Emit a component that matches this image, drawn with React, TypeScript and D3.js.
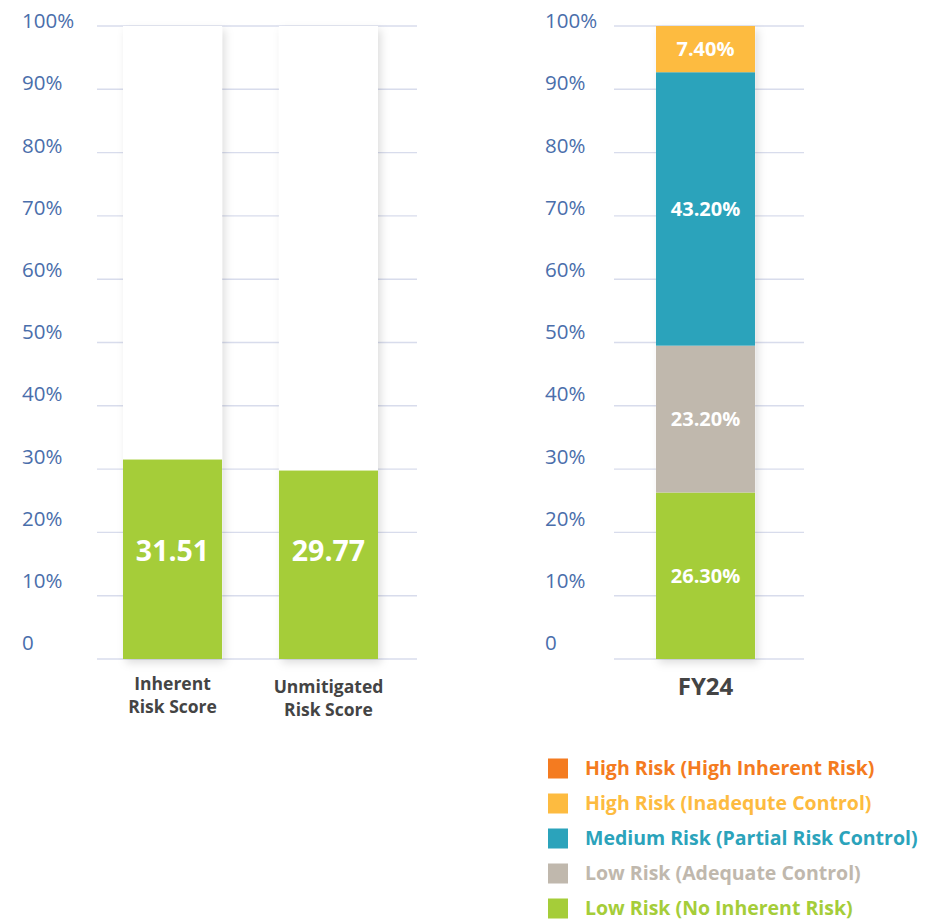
import React from "react";
import * as d3 from "d3";

const leftCategories = ["Inherent Risk Score", "Unmitigated Risk Score"];
const leftCategoryLines = [["Inherent", "Risk Score"], ["Unmitigated", "Risk Score"]];
const leftValues = [31.51, 29.77];
const leftValueLabels = ["31.51", "29.77"];

const yTicks = [0, 10, 20, 30, 40, 50, 60, 70, 80, 90, 100];
const yTickLabels = ["0", "10%", "20%", "30%", "40%", "50%", "60%", "70%", "80%", "90%", "100%"];

const stackCategory = ["FY24"];
const stackSeries = [
  "Low Risk (No Inherent Risk)",
  "Low Risk (Adequate Control)",
  "Medium Risk (Partial Risk Control)",
  "High Risk (Inadequte Control)",
  "High Risk (High Inherent Risk)",
];
const stackValues = [26.3, 23.2, 43.2, 7.4, 0];
const stackLabels = ["26.30%", "23.20%", "43.20%", "7.40%", ""];
const seriesColors = ["#a5cd39", "#c0b8ad", "#2ba3bb", "#fdbb40", "#f47b20"];

const FONT = "'Open Sans', 'Noto Sans', sans-serif";
const GRID = "#d8dcec";
const AXIS_BLUE = "#4a6eab";
const DARK = "#444444";

export default function App() {
  const W = 933, H = 922;
  const y = d3.scaleLinear().domain([0, 100]).range([659, 26]);
  const yLab = d3.scaleLinear().domain([0, 100]).range([643, 21]);

  const xLeft = d3.scaleBand<string>().domain(leftCategories).range([97, 404]).paddingInner(0.365).paddingOuter(0.1667);
  const xRight = d3.scaleBand<string>().domain(stackCategory).range([614, 797]).paddingInner(0).paddingOuter(0.424);

  const stackRow: Record<string, number> = {};
  stackSeries.forEach((s, i) => (stackRow[s] = stackValues[i]));
  const stacked = d3.stack<Record<string, number>>().keys(stackSeries)([stackRow]);

  return (
    <svg width={W} height={H} style={{ position: "absolute", left: 0, top: 0, background: "#fff" }} fontFamily={FONT}>
      <defs>
        <filter id="sh" x="-30%" y="-10%" width="160%" height="130%">
          <feDropShadow dx="3" dy="4" stdDeviation="4" floodColor="#000" floodOpacity="0.13" />
        </filter>
      </defs>

      {/* Left chart gridlines */}
      {yTicks.map((t) => (
        <line key={"gl" + t} x1={97} x2={417} y1={y(t)} y2={y(t)} stroke={GRID} strokeWidth={1.4} />
      ))}
      {yTicks.map((t, i) => (
        <text key={"ll" + t} x={22} y={yLab(t)} dy="0.35em" fill={AXIS_BLUE} fontSize={20.5}>{yTickLabels[i]}</text>
      ))}
      {/* tracks */}
      {leftCategories.map((c) => (
        <rect key={"tr" + c} x={xLeft(c)!} y={y(100)} width={xLeft.bandwidth()} height={y(0) - y(100)} fill="#fff" filter="url(#sh)" />
      ))}
      {leftCategories.map((c, i) => (
        <rect key={"b" + c} x={xLeft(c)!} y={y(leftValues[i])} width={xLeft.bandwidth()} height={y(0) - y(leftValues[i])} fill={seriesColors[0]} />
      ))}
      {leftCategories.map((c, i) => (
        <text key={"v" + c} x={xLeft(c)! + xLeft.bandwidth() / 2} y={y(17)} dy="0.35em" textAnchor="middle" fill="#fff" fontSize={28.5} fontWeight={700}>{leftValueLabels[i]}</text>
      ))}
      {leftCategories.map((c, i) => (
        <text key={"xl" + c} x={xLeft(c)! + xLeft.bandwidth() / 2} y={i === 0 ? 690 : 693} textAnchor="middle" fill={DARK} fontSize={17.5} fontWeight={700}>
          {leftCategoryLines[i].map((l, j) => (
            <tspan key={j} x={xLeft(c)! + xLeft.bandwidth() / 2} dy={j === 0 ? 0 : 23}>{l}</tspan>
          ))}
        </text>
      ))}

      {/* Right chart */}
      {yTicks.map((t) => (
        <line key={"gr" + t} x1={614} x2={804} y1={y(t)} y2={y(t)} stroke={GRID} strokeWidth={1.4} />
      ))}
      {yTicks.map((t, i) => (
        <text key={"rl" + t} x={545} y={yLab(t)} dy="0.35em" fill={AXIS_BLUE} fontSize={20.5}>{yTickLabels[i]}</text>
      ))}
      <rect x={xRight("FY24")!} y={y(100)} width={xRight.bandwidth()} height={y(0) - y(100)} fill="#fff" filter="url(#sh)" />
      {stacked.map((layer, i) => {
        const d = layer[0];
        const top = Math.max(y(d[1]), y(100));
        const h = y(d[0]) - top;
        if (h <= 0) return null;
        return <rect key={"s" + i} x={xRight("FY24")!} y={top} width={xRight.bandwidth()} height={h} fill={seriesColors[i]} />;
      })}
      {stacked.map((layer, i) => {
        const d = layer[0];
        if (!stackLabels[i]) return null;
        const top = Math.max(y(d[1]), y(100));
        const mid = (top + y(d[0])) / 2;
        return (
          <text key={"sl" + i} x={xRight("FY24")! + xRight.bandwidth() / 2} y={mid} dy="0.35em" textAnchor="middle" fill="#fff" fontSize={20} fontWeight={700}>{stackLabels[i]}</text>
        );
      })}
      <text x={xRight("FY24")! + xRight.bandwidth() / 2} y={695} textAnchor="middle" fill={DARK} fontSize={24} fontWeight={700}>FY24</text>

      {/* Legend */}
      {stackSeries.slice().reverse().map((s, k) => {
        const i = stackSeries.length - 1 - k;
        const cy = 768.5 + k * 35;
        return (
          <g key={"lg" + s}>
            <rect x={548} y={cy - 10} width={20} height={20} fill={seriesColors[i]} />
            <text x={585} y={cy} dy="0.35em" fill={seriesColors[i]} fontSize={19.5} fontWeight={700}>{s}</text>
          </g>
        );
      })}
    </svg>
  );
}
